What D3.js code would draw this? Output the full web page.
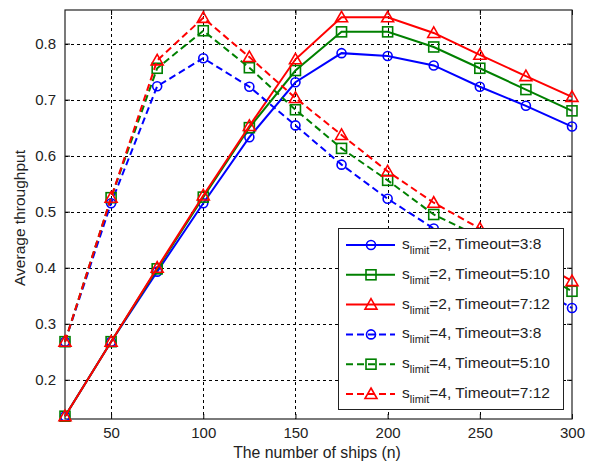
<!DOCTYPE html>
<html>
<head>
<meta charset="utf-8">
<script src="https://cdn.jsdelivr.net/npm/d3@7"></script>
<style>
  body { margin: 0; background: #fff; }
  svg { display: block; font-family: "Liberation Sans", Arial, sans-serif; }
</style>
</head>
<body>
<div id="chart"></div>
<script>
// number of ships
let ships = [25, 50, 75, 100, 125, 150, 175, 200, 225, 250, 275, 300];

// s_limit = 2
let s2t38 = [0.135, 0.268, 0.393, 0.515, 0.633, 0.731, 0.783, 0.778, 0.761, 0.723, 0.689, 0.652];
let s2t510 = [0.135, 0.268, 0.398, 0.526, 0.650, 0.752, 0.821, 0.821, 0.794, 0.756, 0.718, 0.680];
let s2t712 = [0.135, 0.268, 0.400, 0.529, 0.653, 0.772, 0.847, 0.847, 0.819, 0.780, 0.742, 0.705];

// s_limit = 4
let s4t38 = [0.268, 0.515, 0.724, 0.774, 0.723, 0.654, 0.584, 0.523, 0.470, 0.420, 0.375, 0.328];
let s4t510 = [0.268, 0.525, 0.756, 0.823, 0.757, 0.682, 0.613, 0.556, 0.495, 0.455, 0.405, 0.358];
let s4t712 = [0.268, 0.525, 0.770, 0.846, 0.776, 0.703, 0.637, 0.572, 0.516, 0.470, 0.425, 0.376];

let xTicks = [50, 100, 150, 200, 250, 300];
let yTicks = [0.2, 0.3, 0.4, 0.5, 0.6, 0.7, 0.8];

let series = [
  { slimit: 2, timeout: "3:8", values: s2t38, color: "#0000ff", marker: "circle", dashed: false },
  { slimit: 2, timeout: "5:10", values: s2t510, color: "#008000", marker: "square", dashed: false },
  { slimit: 2, timeout: "7:12", values: s2t712, color: "#ff0000", marker: "triangle", dashed: false },
  { slimit: 4, timeout: "3:8", values: s4t38, color: "#0000ff", marker: "circle", dashed: true },
  { slimit: 4, timeout: "5:10", values: s4t510, color: "#008000", marker: "square", dashed: true },
  { slimit: 4, timeout: "7:12", values: s4t712, color: "#ff0000", marker: "triangle", dashed: true },
];

let svgWidth = 591;
let svgHeight = 465;
let plotLeft = 65, plotRight = 572, plotTop = 10, plotBottom = 419;

let xScale = d3.scaleLinear().domain([25, 300]).range([plotLeft, plotRight]);
let yScale = d3.scaleLinear().domain([0.13, 0.86]).range([plotBottom, plotTop]);

let svg = d3.select("#chart").append("svg")
  .attr("width", svgWidth)
  .attr("height", svgHeight);

svg.append("rect")
  .attr("width", svgWidth).attr("height", svgHeight).attr("fill", "#fff");

// grid
let grid = svg.append("g").attr("stroke", "#000").attr("stroke-width", 1)
  .attr("stroke-dasharray", "3,3").attr("shape-rendering", "crispEdges");
xTicks.filter((t) => t < 300).forEach((t) => {
  grid.append("line")
    .attr("x1", Math.round(xScale(t)) + 0.5).attr("x2", Math.round(xScale(t)) + 0.5)
    .attr("y1", plotTop).attr("y2", plotBottom);
});
yTicks.forEach((t) => {
  grid.append("line")
    .attr("y1", Math.round(yScale(t)) + 0.5).attr("y2", Math.round(yScale(t)) + 0.5)
    .attr("x1", plotLeft).attr("x2", plotRight);
});

// axes with inner ticks
let xAxis = d3.axisBottom(xScale).tickValues(xTicks).tickSizeInner(-5).tickSizeOuter(0).tickPadding(8);
let yAxis = d3.axisLeft(yScale).tickValues(yTicks).tickSizeInner(-5).tickSizeOuter(0).tickPadding(9)
  .tickFormat(d3.format(".1f"));

svg.append("g").attr("transform", "translate(0," + plotBottom + ")").call(xAxis);
svg.append("g").attr("transform", "translate(" + plotLeft + ",0)").call(yAxis);
svg.append("g").attr("transform", "translate(0," + plotTop + ")")
  .call(d3.axisTop(xScale).tickValues(xTicks).tickSizeInner(-5).tickSizeOuter(0).tickFormat(""));
svg.append("g").attr("transform", "translate(" + plotRight + ",0)")
  .call(d3.axisRight(yScale).tickValues(yTicks).tickSizeInner(-5).tickSizeOuter(0).tickFormat(""));

svg.selectAll(".domain").remove();
svg.selectAll(".tick line").attr("stroke", "#000");
svg.selectAll(".tick text").attr("fill", "#222").style("font-size", "15px")
  .style("font-family", "'Liberation Sans', Arial, sans-serif");

// frame
svg.append("rect")
  .attr("x", plotLeft).attr("y", plotTop)
  .attr("width", plotRight - plotLeft).attr("height", plotBottom - plotTop)
  .attr("fill", "none").attr("stroke", "#222").attr("stroke-width", 1.2);

// axis titles
svg.append("text")
  .text("The number of ships (n)")
  .attr("x", 317).attr("y", 458)
  .attr("text-anchor", "middle").style("font-size", "15.8px").attr("fill", "#222");

svg.append("text")
  .text("Average throughput")
  .attr("transform", "translate(25, 218) rotate(-90)")
  .attr("text-anchor", "middle").style("font-size", "15.5px").attr("fill", "#222");

// markers
let drawMarker = (g, kind, x, y, color) => {
  if (kind === "circle") {
    g.append("circle").attr("cx", x).attr("cy", y).attr("r", 4.5)
      .attr("fill", "none").attr("stroke", color).attr("stroke-width", 1.6);
  } else if (kind === "square") {
    g.append("rect").attr("x", x - 5).attr("y", y - 5).attr("width", 10).attr("height", 10)
      .attr("fill", "none").attr("stroke", color).attr("stroke-width", 1.6);
  } else {
    g.append("path")
      .attr("d", "M" + x + "," + (y - 6) + " L" + (x + 6) + "," + (y + 4.5) + " L" + (x - 6) + "," + (y + 4.5) + " Z")
      .attr("fill", "none").attr("stroke", color).attr("stroke-width", 1.6);
  }
};

let line = d3.line()
  .x((d, i) => xScale(ships[i]))
  .y((d) => yScale(d));

let plot = svg.append("g");
series.forEach((s) => {
  plot.append("path")
    .attr("d", line(s.values))
    .attr("fill", "none")
    .attr("stroke", s.color)
    .attr("stroke-width", 2)
    .attr("stroke-dasharray", s.dashed ? "7,4" : null);
  s.values.forEach((v, i) => {
    drawMarker(plot, s.marker, xScale(ships[i]), yScale(v), s.color);
  });
});

// legend
let legend = svg.append("g");
legend.append("rect")
  .attr("x", 338.5).attr("y", 228.5).attr("width", 225).attr("height", 181)
  .attr("fill", "#fff").attr("stroke", "#222").attr("stroke-width", 1);

series.forEach((s, i) => {
  let base = 249 + i * 29.8;
  let cy = base - 4;
  legend.append("line")
    .attr("x1", 346).attr("x2", 395).attr("y1", cy).attr("y2", cy)
    .attr("stroke", s.color).attr("stroke-width", 2)
    .attr("stroke-dasharray", s.dashed ? "7,4" : null);
  drawMarker(legend, s.marker, 371, cy, s.color);
  let t = legend.append("text").attr("x", 402).attr("y", base)
    .style("font-size", "15.5px").attr("fill", "#222");
  t.append("tspan").text("s");
  t.append("tspan").text("limit").attr("dy", 5).style("font-size", "11px");
  t.append("tspan").text("=" + s.slimit + ", Timeout=" + s.timeout).attr("dy", -5);
});
</script>
</body>
</html>
